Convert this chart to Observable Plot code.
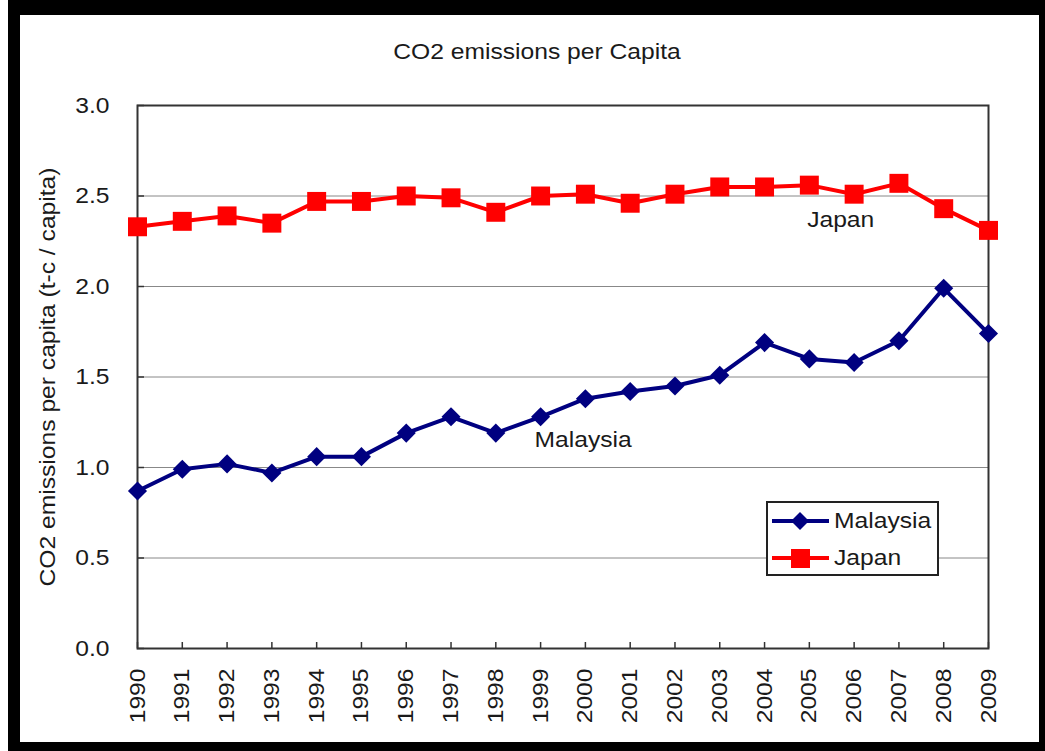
<!DOCTYPE html>
<html>
<head>
<meta charset="utf-8">
<script src="https://cdn.jsdelivr.net/npm/d3@7"></script>
<script src="https://cdn.jsdelivr.net/npm/@observablehq/plot@0.6"></script>
<style>
  html, body { margin: 0; padding: 0; background: #fff; }
  body { position: relative; width: 1045px; height: 751px; overflow: hidden; font-family: "Liberation Sans", Arial, sans-serif; }
  #frame { position: absolute; left: 8px; top: 0; width: 1043px; height: 757px; box-sizing: border-box;
           border-style: solid; border-color: #000; border-width: 15px 12px 15px 12px; background: #fff; }
  #title { position: absolute; left: 516.5px; top: 22px; white-space: nowrap; font-size: 22px; line-height: 30px; color: #1a1a1a;
           transform: translateX(-50%) scaleX(1.12); }
  #chart { position: absolute; left: 0; top: 65px; }
  #legend { position: absolute; left: 746px; top: 486px; width: 173px; height: 75px; box-sizing: border-box;
            border: 2px solid #222; background: #fff; }
  .row { position: absolute; left: 4px; height: 30px; display: flex; align-items: center; font-size: 22px; color: #1a1a1a; white-space: nowrap; }
  .row svg { margin-right: 5px; }
  .row span { display: inline-block; transform: scaleX(1.12); transform-origin: 0 50%; }
</style>
</head>
<body>
<div id="frame">
  <div id="title">CO2 emissions per Capita</div>
  <div id="chart"></div>
  <div id="legend"></div>
</div>
<script>
const years = [1990, 1991, 1992, 1993, 1994, 1995, 1996, 1997, 1998, 1999,
               2000, 2001, 2002, 2003, 2004, 2005, 2006, 2007, 2008, 2009];
const malaysia = [0.87, 0.99, 1.02, 0.97, 1.06, 1.06, 1.19, 1.28, 1.19, 1.28,
                  1.38, 1.42, 1.45, 1.51, 1.69, 1.60, 1.58, 1.70, 1.99, 1.74];
const japan = [2.33, 2.36, 2.39, 2.35, 2.47, 2.47, 2.50, 2.49, 2.41, 2.50,
               2.51, 2.46, 2.51, 2.55, 2.55, 2.56, 2.51, 2.57, 2.43, 2.31];
const seriesNames = ["Malaysia", "Japan"];
const seriesColors = ["#000080", "#ff0000"];
const yTicks = [0, 0.5, 1.0, 1.5, 2.0, 2.5, 3.0];
const annotations = [
  {text: "Japan", year: 2005.7, value: 2.365},
  {text: "Malaysia", year: 1999.95, value: 1.15}
];

const malData = years.map((year, i) => ({year, value: malaysia[i]}));
const japData = years.map((year, i) => ({year, value: japan[i]}));

const W = 1019, H = 662, mL = 117, mR = 51, mT = 25, mB = 94;
const innerH = H - mT - mB, innerW = W - mL - mR;

const chart = Plot.plot({
  width: W, height: H,
  marginLeft: mL, marginRight: mR, marginTop: mT, marginBottom: mB,
  style: {fontFamily: '"Liberation Sans", Arial, sans-serif', fontSize: "22px", color: "#1a1a1a", background: "#fff"},
  x: {domain: [1990, 2009]},
  y: {domain: [0, 3]},
  marks: [
    Plot.gridY(yTicks.filter(d => d > 0 && d < 3), {stroke: "#888", strokeOpacity: 1, strokeWidth: 1}),
    Plot.axisX({ticks: years, tickFormat: d => String(d), tickRotate: -90, tickSize: 0, tickPadding: 20, label: null, fill: "#1a1a1a"}),
    Plot.axisY({ticks: yTicks, tickFormat: d => d.toFixed(1), tickSize: 0, tickPadding: 28, label: "CO2 emissions per capita (t-c / capita)",
                labelAnchor: "center", labelArrow: "none", labelOffset: 98, fill: "#1a1a1a"}),
    Plot.tickX(years, {x: d => d, stroke: "#333", strokeWidth: 1.5, insetTop: innerH - 6}),
    Plot.tickY(yTicks, {y: d => d, stroke: "#333", strokeWidth: 1.5, insetRight: innerW - 7}),
    Plot.frame({stroke: "#333", strokeWidth: 2}),
    Plot.line(malData, {x: "year", y: "value", stroke: seriesColors[0], strokeWidth: 4}),
    Plot.line(japData, {x: "year", y: "value", stroke: seriesColors[1], strokeWidth: 4}),
    Plot.dot(malData, {x: "year", y: "value", symbol: "diamond2", r: 8.6, fill: seriesColors[0], stroke: "none"}),
    Plot.dot(japData, {x: "year", y: "value", symbol: "square", r: 10.7, fill: seriesColors[1], stroke: "none"}),
    Plot.text(annotations, {x: "year", y: "value", text: "text", fontSize: 22, fill: "#1a1a1a"})
  ]
});
document.getElementById("chart").appendChild(chart);

// widen glyphs horizontally to match the reference's stretched lettering
chart.querySelectorAll("text").forEach(t => {
  if (t.querySelector("tspan")) return;
  const len = t.getComputedTextLength();
  if (len > 0) {
    t.setAttribute("textLength", (len * 1.12).toFixed(2));
    t.setAttribute("lengthAdjust", "spacingAndGlyphs");
  }
});

// legend
const legend = document.getElementById("legend");
seriesNames.forEach((name, i) => {
  const row = document.createElement("div");
  row.className = "row";
  row.style.top = (i === 0 ? 3 : 40) + "px";
  const sym = i === 0
    ? `<polygon points="28,5 37,14 28,23 19,14" fill="${seriesColors[i]}"/>`
    : `<rect x="19" y="5" width="19" height="19" fill="${seriesColors[i]}"/>`;
  row.innerHTML = `<svg width="57" height="28"><line x1="0" x2="57" y1="14" y2="14" stroke="${seriesColors[i]}" stroke-width="4"/>${sym}</svg><span>${name}</span>`;
  legend.appendChild(row);
});
</script>
</body>
</html>
